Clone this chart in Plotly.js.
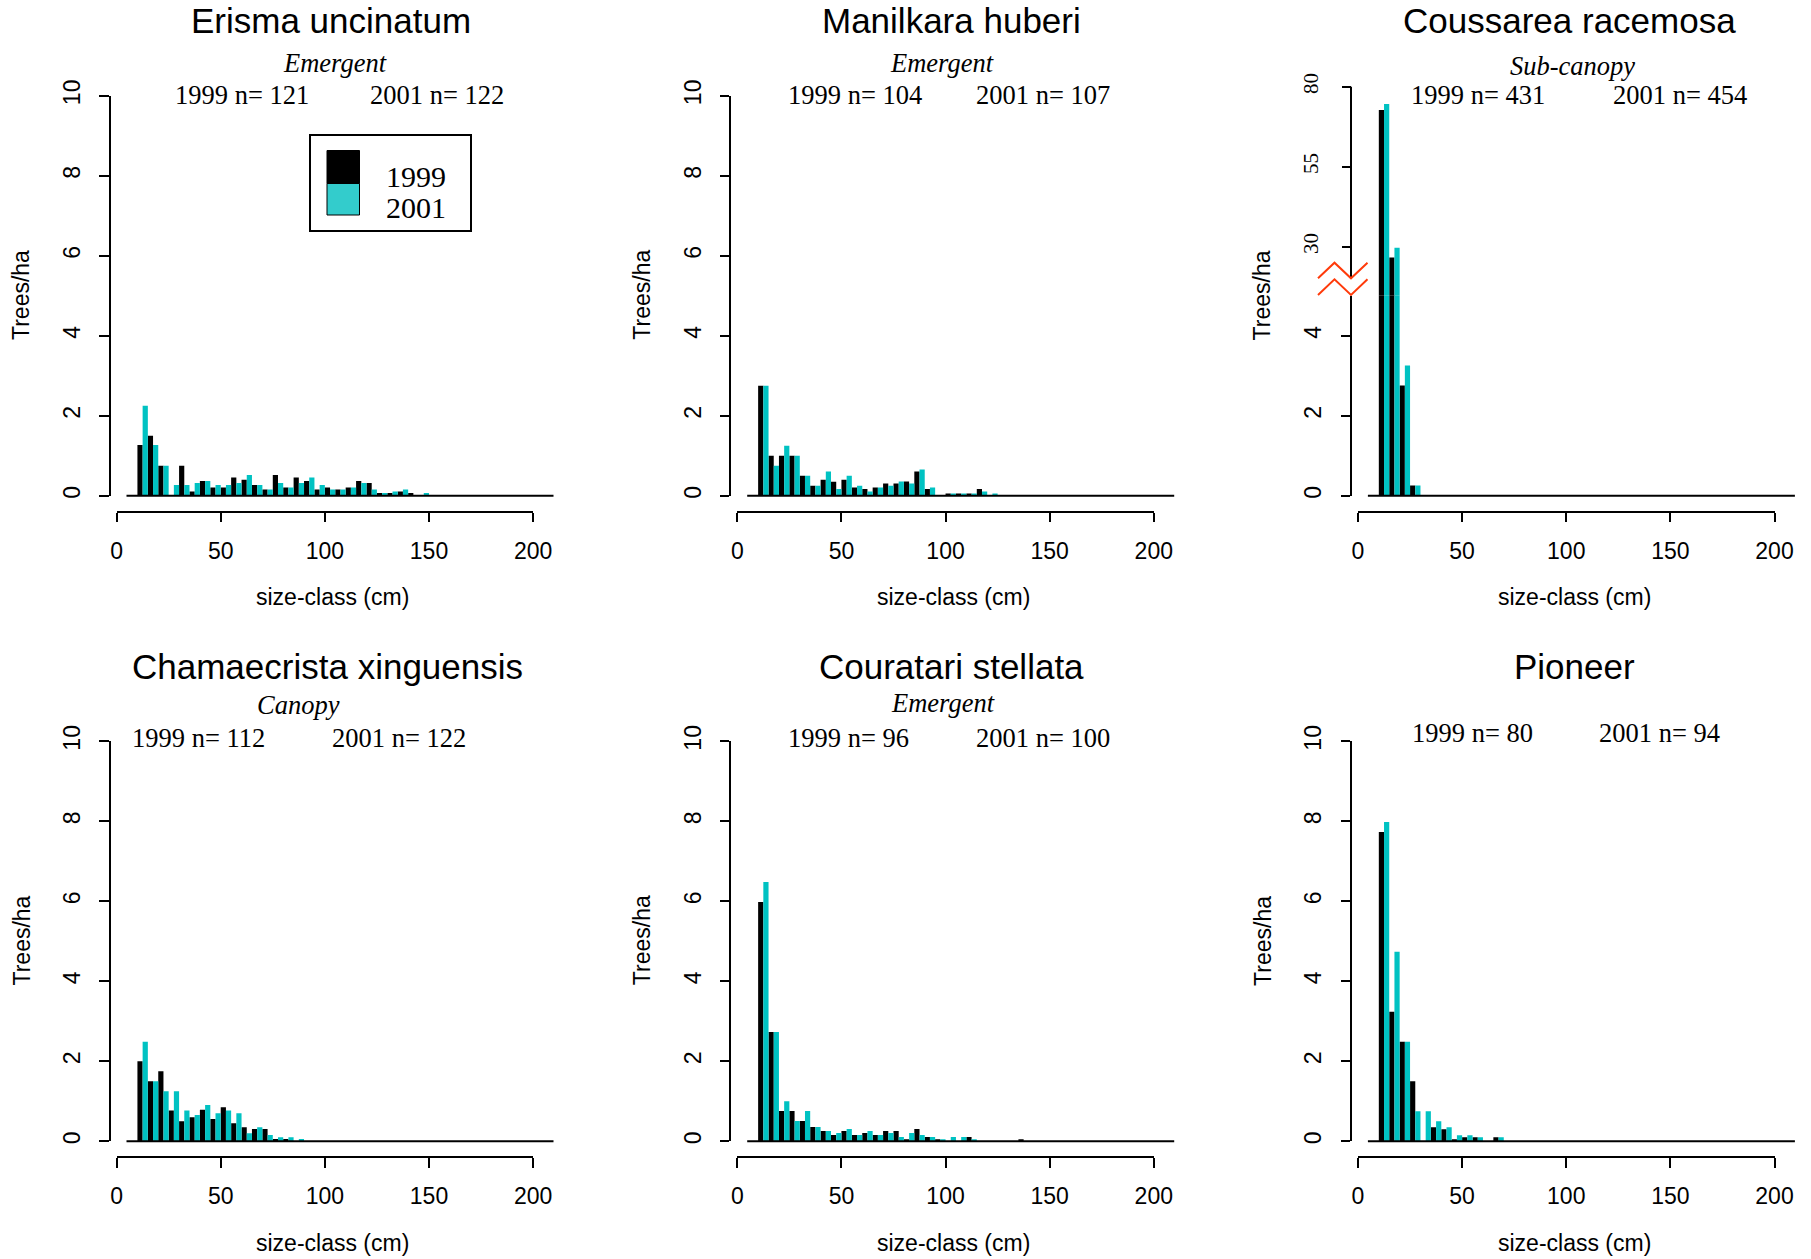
<!DOCTYPE html>
<html>
<head>
<meta charset="utf-8">
<script src="https://cdn.plot.ly/plotly-3.0.1.min.js"></script>
<style>
html,body{margin:0;padding:0;background:#ffffff;}
#chart{width:1811px;height:1259px;}
</style>
</head>
<body>
<div id="chart"></div>
<script>
// ---------------- DATA ----------------
const species = ["Erisma uncinatum", "Manilkara huberi", "Coussarea racemosa",
                 "Chamaecrista xinguensis", "Couratari stellata", "Pioneer"];
const strata = ["Emergent", "Emergent", "Sub-canopy", "Canopy", "Emergent", ""];
const years = ["1999", "2001"];
const n1999 = [121, 104, 431, 112, 96, 80];
const n2001 = [122, 107, 454, 122, 100, 94];

const xTickVals = [0, 50, 100, 150, 200];
const yTickVals = [0, 2, 4, 6, 8, 10];
const yTickValsLowBreak = [0, 2, 4];
const yTickValsHighBreak = [30, 55, 80];

// size-class bins (lower bound, cm)
const binsErisma = [10,15,20,25,30,35,40,45,50,55,60,65,70,75,80,85,90,95,100,105,110,115,120,125,130,135,140,145];
const erisma1999 = [1.27,1.5,0.75,0,0.75,0.11,0.37,0.21,0.21,0.46,0.4,0.27,0.16,0.52,0.21,0.46,0.37,0.16,0.21,0.16,0.21,0.37,0.32,0.07,0.07,0.11,0.07,0];
const erisma2001 = [2.25,1.27,0.75,0.27,0.27,0.32,0.37,0.27,0.27,0.32,0.52,0.27,0.16,0.32,0.21,0.32,0.46,0.27,0.16,0.16,0.21,0.32,0.16,0.07,0.11,0.16,0,0.07];

const binsManilkara = [10,15,20,25,30,35,40,45,50,55,60,65,70,75,80,85,90,95,100,105,110,115,120];
const manilkara1999 = [2.75,1.0,1.0,1.0,0.5,0.25,0.4,0.35,0.4,0.21,0.17,0.21,0.31,0.31,0.36,0.61,0.17,0,0.06,0.06,0.06,0.17,0];
const manilkara2001 = [2.75,0.75,1.25,1.0,0.5,0.25,0.61,0.17,0.5,0.25,0.11,0.21,0.25,0.36,0.31,0.66,0.21,0,0.06,0.06,0.06,0.11,0.06];

const binsCoussarea = [10,15,20,25];
const coussarea1999 = [72.7,26.6,2.76,0.26];
const coussarea2001 = [74.6,29.7,3.26,0.26];

const binsChamaecrista = [10,15,20,25,30,35,40,45,50,55,60,65,70,75,80,85];
const chamaecrista1999 = [2.0,1.5,1.75,0.77,0.5,0.6,0.79,0.56,0.85,0.45,0.35,0.31,0.31,0.06,0.06,0];
const chamaecrista2001 = [2.49,1.5,1.25,1.25,0.77,0.66,0.91,0.7,0.77,0.7,0.2,0.35,0.16,0.1,0.1,0.06];

const binsCouratari = [10,15,20,25,30,35,40,45,50,55,60,65,70,75,80,85,90,95,100,105,110,115,120,125,130,135];
const couratari1999 = [5.98,2.73,0.76,0.76,0.51,0.36,0.26,0.16,0.26,0.16,0.21,0.16,0.26,0.26,0.05,0.31,0.11,0.05,0,0,0.11,0,0,0,0,0.05];
const couratari2001 = [6.48,2.73,1.0,0.51,0.76,0.36,0.26,0.21,0.31,0.16,0.26,0.16,0.21,0.11,0.21,0.16,0.11,0.05,0.11,0.11,0.05,0,0,0,0,0];

const binsPioneer = [10,15,20,25,30,35,40,45,50,55,60,65];
const pioneer1999 = [7.73,3.24,2.49,1.5,0,0.35,0.3,0.05,0.1,0.1,0,0.1];
const pioneer2001 = [7.98,4.74,2.49,0.75,0.75,0.5,0.35,0.15,0.15,0.1,0,0.1];

const panelBins = [binsErisma, binsManilkara, binsCoussarea, binsChamaecrista, binsCouratari, binsPioneer];
const panel1999 = [erisma1999, manilkara1999, coussarea1999, chamaecrista1999, couratari1999, pioneer1999];
const panel2001 = [erisma2001, manilkara2001, coussarea2001, chamaecrista2001, couratari2001, pioneer2001];

// ---------------- STYLE / GEOMETRY ----------------
const W = 1811, H = 1259;
const fx = p => p / W;
const fy = p => 1 - p / H;
const C99 = "#000000", C01 = "#00C2C2", CLEG01 = "#33CCCC", CBREAK = "#FF3A0A";
const SANS = "Liberation Sans, Arial, sans-serif";
const SERIF = "Liberation Serif, Times New Roman, serif";
const BIN_W = 5;           // bin width (cm)

const G = {x0: 116.6, cm: 2.0825, y0: 495.8, unit: 40, yAxisX: 109.6, xAxisY: 511.8,
           colDX: [0, 620.7, 1241.4], rowDY: [0, 645.5]};
// per-panel text placement (px, relative to panel offset)
const titlePos = [[331,20.8],[331,20.8],[328,20.8],[327,21],[331,21],[333,21]];
const stratPos = [[335,63],[321,63],[331,66],[298,59],[322,57],[0,0]];
const n99Pos = [[242,95],[234,95],[237,95],[198,92],[228,92],[231,88]];
const n01Pos = [[437,95],[422,95],[439,95],[399,92],[422,92],[418,88]];

const traces = [];
const layout = {
  width: W, height: H,
  margin: {l: 0, r: 0, t: 0, b: 0, pad: 0},
  paper_bgcolor: "#ffffff", plot_bgcolor: "rgba(0,0,0,0)",
  showlegend: false, barmode: "overlay",
  font: {family: SANS, size: 23, color: "#000"},
  annotations: [], shapes: []
};

function axisCommon() {
  return {anchor: "free", showline: true, linewidth: 2, linecolor: "#000",
          ticks: "outside", ticklen: 9.5, tickwidth: 2, tickcolor: "#000",
          showgrid: false, zeroline: false, fixedrange: true,
          tickfont: {family: SANS, size: 23, color: "#000"}};
}
function ann(text, x, y, font, extra) {
  layout.annotations.push(Object.assign({text: text, xref: "paper", yref: "paper",
    x: fx(x), y: fy(y), xanchor: "center", yanchor: "middle", showarrow: false, font: font}, extra || {}));
}
function line(x0, y0, x1, y1, color, w) {
  layout.shapes.push({type: "line", xref: "paper", yref: "paper",
    x0: fx(x0), y0: fy(y0), x1: fx(x1), y1: fy(y1), line: {color: color, width: w}});
}

for (let i = 0; i < 6; i++) {
  const col = i % 3, row = Math.floor(i / 3);
  const dx = G.colDX[col], dy = G.rowDY[row];
  const id = i === 0 ? "" : String(i + 1);
  const xa = "x" + id, ya = "y" + id;

  // x axis (R style: line from 0 to 200, below the plot region)
  layout["xaxis" + id] = Object.assign(axisCommon(), {
    domain: [fx(G.x0 + dx), fx(G.x0 + 200 * G.cm + dx)], range: [0, 200],
    position: fy(G.xAxisY + dy), tickvals: xTickVals, ticklabelstandoff: 9
  });

  const yBase = Object.assign(axisCommon(), {
    position: fx(G.yAxisX + dx), side: "left", tickangle: -90, ticklabelstandoff: 10
  });

  const yAxes = [ya];
  if (i === 2) {
    // broken axis: lower part 0-5, upper part with its own scale
    layout["yaxis" + id] = Object.assign(yBase, {
      domain: [fy(G.y0 + dy), fy(G.y0 - 5 * G.unit + dy)], range: [0, 5], tickvals: yTickValsLowBreak
    });
    const upTopPx = 86.7, upPxPerUnit = 3.2;
    const lowPx = G.y0 - 5 * G.unit;
    layout.yaxis7 = Object.assign(axisCommon(), {
      position: fx(G.yAxisX + dx), side: "left", tickangle: -90, ticklabelstandoff: 15,
      showline: false,
      domain: [fy(lowPx + dy), fy(upTopPx + dy)],
      range: [80 - (lowPx - upTopPx) / upPxPerUnit, 80],
      tickvals: yTickValsHighBreak,
      tickfont: {family: SERIF, size: 21, color: "#000"}
    });
    yAxes.push("y7");
    // upper axis line, red break marks
    const ax = G.yAxisX + dx;
    line(ax, 278.3 + dy, ax, upTopPx + dy, "#000", 2);
    [0, 16.6].forEach(off => {
      const yl = 278.3 + off + dy, yh = 262.7 + off + dy;
      layout.shapes.push({type: "path", xref: "paper", yref: "paper",
        path: "M" + fx(ax - 33) + "," + fy(yl) + " L" + fx(ax - 16.5) + "," + fy(yh) +
              " L" + fx(ax) + "," + fy(yl) + " L" + fx(ax + 16.5) + "," + fy(yh),
        line: {color: CBREAK, width: 2}});
    });
  } else {
    layout["yaxis" + id] = Object.assign(yBase, {
      domain: [fy(G.y0 + dy), fy(G.y0 - 10 * G.unit + dy)], range: [0, 10], tickvals: yTickVals
    });
  }

  yAxes.forEach(yy => {
    traces.push({type: "bar", x: panelBins[i], y: panel1999[i], xaxis: xa, yaxis: yy,
      width: BIN_W / 2, offset: 0, marker: {color: C99, line: {width: 0}},
      name: years[0], hoverinfo: "skip"});
    traces.push({type: "bar", x: panelBins[i], y: panel2001[i], xaxis: xa, yaxis: yy,
      width: BIN_W / 2, offset: BIN_W / 2, marker: {color: C01, line: {width: 0}},
      name: years[1], hoverinfo: "skip"});
  });

  // baseline at 0
  line(126.5 + dx, G.y0 + dy, 553.5 + dx, G.y0 + dy, "#000", 2);

  // texts
  ann(species[i], titlePos[i][0] + dx, titlePos[i][1] + dy, {family: SANS, size: 35, color: "#000"});
  if (strata[i]) ann("<i>" + strata[i] + "</i>", stratPos[i][0] + dx, stratPos[i][1] + dy, {family: SERIF, size: 26.5, color: "#000"});
  ann(years[0] + " n= " + n1999[i], n99Pos[i][0] + dx, n99Pos[i][1] + dy, {family: SERIF, size: 26.5, color: "#000"});
  ann(years[1] + " n= " + n2001[i], n01Pos[i][0] + dx, n01Pos[i][1] + dy, {family: SERIF, size: 26.5, color: "#000"});
  ann("size-class (cm)", 332.6 + dx, 597 + dy, {family: SANS, size: 23, color: "#000"});
  ann("Trees/ha", 21 + dx, 295 + dy, {family: SANS, size: 23, color: "#000"}, {textangle: -90});
}

// legend (first panel)
layout.shapes.push({type: "rect", xref: "paper", yref: "paper", x0: fx(310), x1: fx(471), y0: fy(135), y1: fy(231),
  line: {color: "#000", width: 2}, fillcolor: "rgba(0,0,0,0)"});
layout.shapes.push({type: "rect", xref: "paper", yref: "paper", x0: fx(327), x1: fx(359.5), y0: fy(150.5), y1: fy(183.5),
  line: {color: "#000", width: 1}, fillcolor: C99});
layout.shapes.push({type: "rect", xref: "paper", yref: "paper", x0: fx(327), x1: fx(359.5), y0: fy(183.5), y1: fy(215),
  line: {color: "#000", width: 1}, fillcolor: CLEG01});
ann(years[0], 383.5, 176.5, {family: SERIF, size: 30, color: "#000"}, {xanchor: "left"});
ann(years[1], 383.5, 207.5, {family: SERIF, size: 30, color: "#000"}, {xanchor: "left"});

Plotly.newPlot("chart", traces, layout, {displayModeBar: false, staticPlot: true});
</script>
</body>
</html>
